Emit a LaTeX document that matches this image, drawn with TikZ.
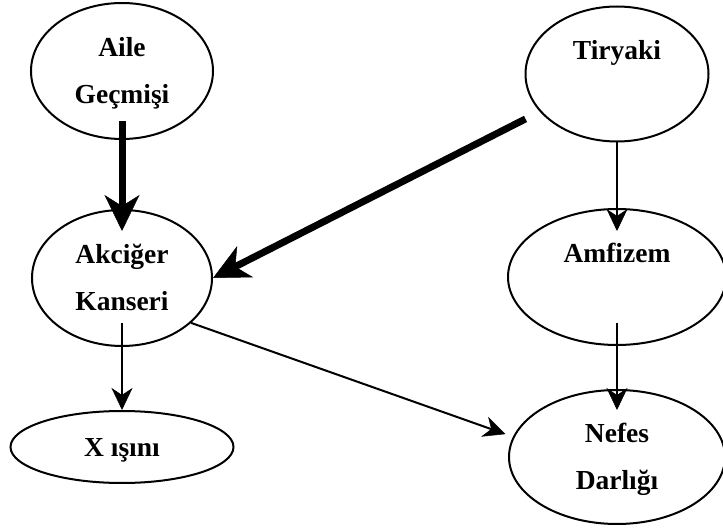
\documentclass[tikz,border=0pt]{standalone}
\usepackage{fontspec}
\setmainfont{Liberation Serif}
\usetikzlibrary{arrows.meta}
\usetikzlibrary{shapes.geometric}
\newcommand{\ls}{\rule[-14pt]{0pt}{46pt}}

\begin{document}
\begin{tikzpicture}[x=1pt, y=-1pt,
    var/.style={draw, ellipse, line width=2pt, align=center, inner sep=0pt,
        font=\fontsize{27.5}{47}\selectfont\bfseries},
    link/.style={line width=2pt, -{Stealth[length=22pt, width=21pt, inset=7pt, line width=0.5pt]}},
    heavy/.style={line width=7pt, -{Stealth[length=36pt, width=35pt, inset=11pt, line width=0.5pt]}}]
  \useasboundingbox (0,0) rectangle (723,529);
  \node[var, minimum width=182pt, minimum height=136pt] (aile) at (122,71) {\ls Aile\\\ls Geçmişi};
  \node[var, minimum width=183pt, minimum height=135pt] (tir) at (617,74) {\ls Tiryaki\\\ls};
  \node[var, minimum width=180pt, minimum height=136pt] (akc) at (122,278) {\ls Akciğer\\\ls Kanseri};
  \node[var, minimum width=218pt, minimum height=136pt] (amf) at (617,277) {\ls Amfizem\\\ls};
  \node[var, minimum width=223pt, minimum height=72pt] (xis) at (122,447) {\ls X ışını};
  \node[var, minimum width=216pt, minimum height=134pt] (nef) at (617,457) {\ls Nefes\\\ls Darlığı};

  \draw[heavy, shorten <=-19pt, shorten >=-22pt] (aile) -- (akc);
  \draw[heavy, shorten <=16pt] (tir.206) -- (akc.east);
  \draw[link, shorten >=-23pt] (tir) -- (amf);
  \draw[link, shorten <=-24pt] (akc) -- (xis);
  \draw[link, shorten >=8pt] (akc.-33) -- (nef.169);
  \draw[link, shorten <=-23pt, shorten >=-21pt] (amf) -- (nef);
\end{tikzpicture}
\end{document}
